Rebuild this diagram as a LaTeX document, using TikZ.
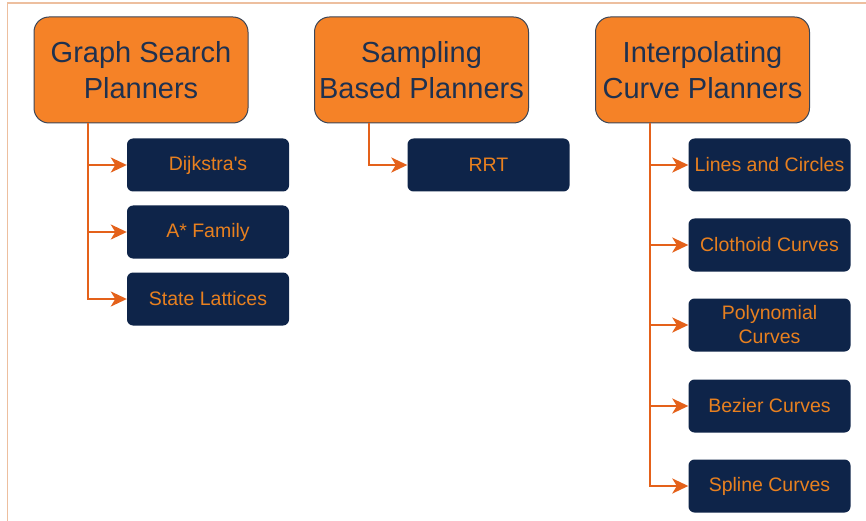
\documentclass[tikz,border=0pt]{standalone}
\usepackage{fontspec}
\setmainfont{Liberation Sans}
\usetikzlibrary{arrows.meta}
\definecolor{parentfill}{HTML}{F58227}
\definecolor{parentline}{HTML}{3C4657}
\definecolor{parenttext}{HTML}{1E3150}
\definecolor{childfill}{HTML}{0E2449}
\definecolor{childtext}{HTML}{E8801F}
\definecolor{linkcol}{HTML}{E4611A}
\definecolor{framecol}{HTML}{EDBF9F}
\tikzset{
  parentbox/.style={draw=parentline, line width=1pt, fill=parentfill, rounded corners=15pt,
    minimum width=214pt, minimum height=106pt, align=center, text=parenttext,
    font=\fontsize{29}{36}\selectfont, inner sep=0pt},
  childbox/.style={draw=none, fill=childfill, rounded corners=6pt,
    minimum width=162pt, minimum height=53pt, align=center, text=childtext,
    font=\fontsize{19.5}{24}\selectfont, inner sep=0pt},
  link/.style={draw=linkcol, line width=2.4pt,
    -{Stealth[length=16pt,width=15pt,inset=4.5pt]}},
}
\begin{document}
\begin{tikzpicture}[x=1pt,y=-1pt]
\useasboundingbox (0,0) rectangle (866,521);
\fill[white] (0,0) rectangle (866,521);
% frame lines along the top and left
\draw[framecol, line width=1.6pt] (7.5,521) -- (7.5,3) -- (866,3);

% category boxes
\node[parentbox] (gs) at (141,70) {Graph Search\\Planners};
\node[parentbox] (sb) at (421.5,70) {Sampling\\Based Planners};
\node[parentbox] (ic) at (702.5,70) {Interpolating\\Curve Planners};

% planner boxes
\node[childbox] (dij) at (208,165) {Dijkstra\textquotesingle s};
\node[childbox] (ast) at (208,232) {A* Family};
\node[childbox] (sl)  at (208,299) {State Lattices};
\node[childbox] (rrt) at (488.5,165) {RRT};
\node[childbox] (lc)  at (769.5,165) {Lines and Circles};
\node[childbox] (cc)  at (769.5,245) {Clothoid Curves};
\node[childbox] (pc)  at (769.5,325) {Polynomial\\Curves};
\node[childbox] (bc)  at (769.5,406) {Bezier Curves};
\node[childbox] (sc)  at (769.5,486) {Spline Curves};

% trunk start points under each category
\coordinate (gst) at (88,123.5);
\coordinate (sbt) at (369,123.5);
\coordinate (ict) at (650,123.5);

% connectors
\draw[link] (gst) |- (dij.west);
\draw[link] (gst) |- (ast.west);
\draw[link] (gst) |- (sl.west);
\draw[link] (sbt) |- (rrt.west);
\draw[link] (ict) |- (lc.west);
\draw[link] (ict) |- (cc.west);
\draw[link] (ict) |- (pc.west);
\draw[link] (ict) |- (bc.west);
\draw[link] (ict) |- (sc.west);
\end{tikzpicture}
\end{document}
